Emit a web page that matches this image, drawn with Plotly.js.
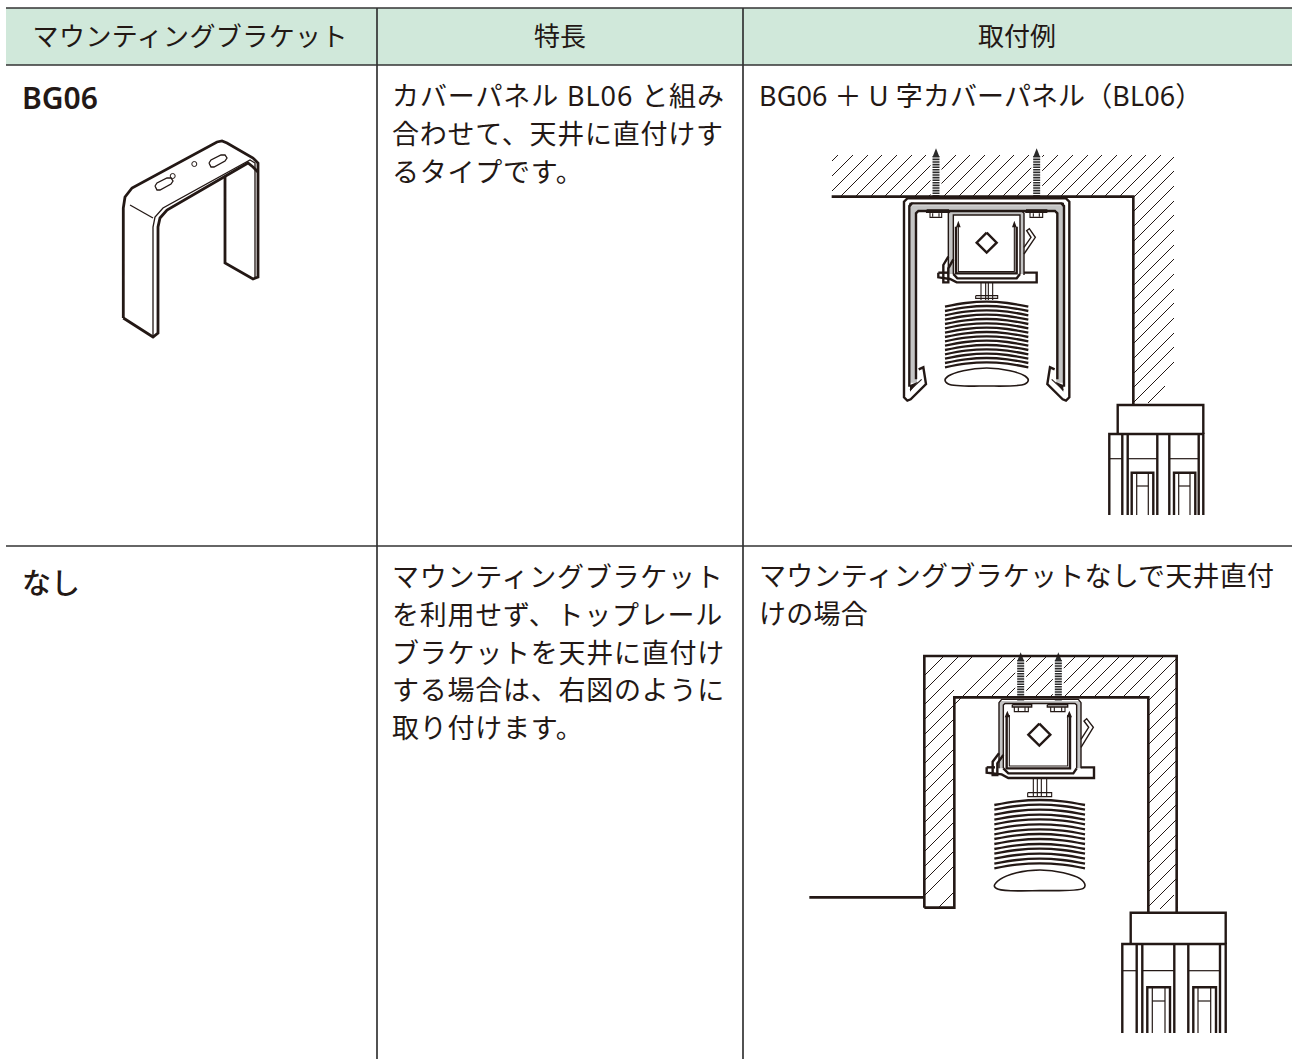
<!DOCTYPE html>
<html><head><meta charset="utf-8">
<script src="https://cdn.plot.ly/plotly-3.0.1.min.js"></script>
<style>html,body{margin:0;padding:0;background:#fff}#c{width:1292px;height:1059px}</style>
</head><body><div id="c"></div>
<script>
// ---------- text ----------
const headerLabels = ["マウンティングブラケット","特長","取付例"];
const headerCenters = [190,560,1017];
const rowLabels = ["BG06","なし"];
const rowLabelY = [97,582];
const rowLabelWeights = [600,500];
const featureLines = ["カバーパネル BL06 と組み","合わせて、天井に直付けす","るタイプです。","マウンティングブラケット","を利用せず、トップレール","ブラケットを天井に直付け","する場合は、右図のように","取り付けます。"];
const featureY = [95,133,171,576,614,652,689,727];
const featureTrack = [0.9,0.75,0.75,0.75,0.75,0.75,0.75,0.75];
const exampleLines = ["BG06 ＋ U 字カバーパネル（BL06）","マウンティングブラケットなしで天井直付","けの場合"];
const exampleY = [95,575,613];
const exampleTrack = [0.1,0.25,0.25];

// ---------- table ----------
const bandX = [6,1292,1292,6,6], bandY = [8,8,65,65,8];
const tableLines = [[6,8,1292,8],[6,65,1292,65],[6,546,1292,546],[377,8,377,1059],[743,8,743,1059]];

// ---------- bracket BG06 (page units) ----------
const bracketThick = [
 [123.3,318,123.3,208,125,197,132,188,217,142,222,141,227,143,253,158,258,163,258,277,253,279,225,263,225,177],
 [123.3,318,153,337,158,333,158,227,160,218,167,210,248,163,253,167,258,172]];
const bracketThin = [
 [153,335,153,227,155,217,163,208,250,160,255,163,255,277],[130,205,153,218],
 [155,186,157,190,160,190,171,184,173,181,171,178,167,178,157,183,155,186],
 [209,163,211,167,214,167,225,161,227,158,225,155,221,155,211,160,209,163]];
const holeX = [172.7,194.3], holeY = [176,164];

// ---------- hatching, page units: x1,y1,x2,y2 ----------
const hatchA = [[832,161,838,155],[832,176,853,155],[832,191,868,155],[841,196,882,155],[856,196,897,155],[871,196,912,155],[885,196,926,155],[900,196,941,155],[915,196,956,155],[929,196,970,155],[944,196,985,155],[959,196,1000,155],[973,196,1014,155],[988,196,1029,155],[1003,196,1044,155],[1017,196,1058,155],[1032,196,1073,155],[1047,196,1088,155],[1061,196,1102,155],[1076,196,1117,155],[1091,196,1132,155],[1105,196,1146,155],[1120,196,1161,155],[1134,197,1174,157],[1134,211,1174,171],[1134,226,1174,186],[1134,241,1174,201],[1134,255,1174,215],[1134,270,1174,230],[1134,285,1174,245],[1134,299,1174,259],[1134,314,1174,274],[1134,329,1174,289],[1134,343,1174,303],[1134,358,1174,318],[1134,373,1174,333],[1134,387,1174,347],[1134,402,1174,362],[1148,403,1165,386]];
const hatchB = [[925,675,943,657],[925,690,958,657],[925,704,972,657],[925,719,954,690],[925,734,954,705],[925,748,954,719],[925,763,954,734],[925,778,954,749],[925,792,954,763],[925,807,954,778],[925,822,954,793],[925,836,954,807],[925,851,954,822],[925,866,954,837],[925,880,954,851],[925,895,954,866],[939,907,954,892],
 [954,705,1002,657],[962,697,1002,657],[976,697,1016,657],[991,697,1031,657],[1006,697,1046,657],[1020,697,1060,657],[1035,697,1075,657],[1050,697,1090,657],[1064,697,1104,657],[1079,697,1119,657],[1094,697,1134,657],[1108,697,1148,657],[1123,697,1163,657],[1138,697,1176,659],
 [1149,700,1176,673],[1149,715,1176,688],[1149,730,1176,703],[1149,744,1176,717],[1149,759,1176,732],[1149,774,1176,747],[1149,788,1176,761],[1149,803,1176,776],[1149,818,1176,791],[1149,832,1176,805],[1149,847,1176,820],[1149,862,1176,835],[1149,876,1176,849],[1149,891,1176,864],[1149,906,1176,879],[1160,909,1174,895]];

// ---------- diagram A, crop units (820,130 at 1/3) ----------
const wallA = [[35,200,940,200,940,825]];
const screwAx = [348,650];
const grayA = [[271,758,271,226,729,226,729,758,709,758,709,240,291,240,291,758,271,758],[385,432,385,245,612,245,612,432,600,432,600,255,400,255,400,432,385,432],[320,240,385,240,385,247,320,247,320,240],[618,240,680,240,680,247,618,247,618,240]];
const darkA = [[268,218,282,218,268,234,268,218],[732,218,718,218,732,234,732,218],[270,765,294,755,270,785,270,765],[730,765,706,755,730,785,730,765]];
const heavyA = [
 [296,718,310,712,318,762,272,808,262,812,252,802,252,215,262,205,738,205,748,215,748,802,738,812,728,808,682,762,690,712,704,718],
 [268,770,268,228,275,220,725,220,732,228,732,770],[288,748,288,250,295,243,705,243,712,250,712,748],
 [408,290,408,430,590,430,590,290],
 [355,428,385,428],[400,432,412,445,590,445,600,432],[612,428,650,428,650,457,410,457,390,447,355,442,355,428],
 [385,380,370,405,370,457,385,457,385,415,400,388],
 [500,308,530,338,500,368,470,338,500,308]];
const midA = [[385,435,385,250,392,242,605,242,612,250,612,435],[400,432,400,255,600,255,600,432],[320,240,385,240,385,247,320,247,320,240],[618,240,680,240,680,247,618,247,618,240],[612,352,633,322,620,302,628,296,646,322,612,372]];
const thinA = [[415,285,415,425,583,425,583,285],[330,248,330,262,365,262,365,248],[338,250,338,260],[357,250,357,260],[630,248,630,262,668,262,668,248],[640,250,640,260],[658,250,658,260],
 [483,458,483,510],[497,458,497,510],[505,458,505,510],[518,458,518,510],[467,497,533,497,533,505,467,505,467,497],[270,780,305,748],[730,780,695,748]];
const tipsA = [[415,272,422,292,408,292,415,272],[583,272,590,292,576,292,583,272]];
const slatTopsA = [515,528,541,554,567,580,593,606,619,632,645,658,671,684,697];
const slatXA = [375,437,500,562,625], slatDropA = [15,4,0,4,15];
const rollerA = [[375,750,385,738,430,722,500,714,570,722,615,738,625,750,615,762,500,768,385,762,375,750]];

// ---------- head box A / B, page units ----------
const headBoxA = [[1117.7,434,1117.7,405,1203.3,405,1203.3,434],[1109.3,515,1109.3,434,1203.3,434,1203.3,515],[1122.3,434,1122.3,515],[1127.7,434,1127.7,515],[1157.3,434,1157.3,515],[1169.3,434,1169.3,515],[1198.7,434,1198.7,515],[1131.7,515,1131.7,472.7,1153.3,472.7,1153.3,515],[1174,515,1174,472.7,1195.3,472.7,1195.3,515]];
const headThinA = [[1109.3,458.7,1122.3,458.7],[1127.7,458.7,1157.3,458.7],[1169.3,458.7,1198.7,458.7],[1136.7,473,1136.7,515],[1148.3,473,1148.3,515],[1136.7,486,1148.3,486],[1178.7,473,1178.7,515],[1190,473,1190,515],[1178.7,486,1190,486]];
const headBoxB = [[1130.7,944,1130.7,912.7,1225.7,912.7,1225.7,944],[1122.3,1033,1122.3,944,1225.7,944,1225.7,1033],[1136.7,944,1136.7,1033],[1142.3,944,1142.3,1033],[1174.3,944,1174.3,1033],[1188.3,944,1188.3,1033],[1220,944,1220,1033],[1147.3,1033,1147.3,987.3,1170,987.3,1170,1033],[1193.3,1033,1193.3,987.3,1216,987.3,1216,1033]];
const headThinB = [[1122.3,970.7,1136.7,970.7],[1142.3,970.7,1174.3,970.7],[1188.3,970.7,1220,970.7],[1152.3,988,1152.3,1033],[1165,988,1165,1033],[1152.3,1001,1165,1001],[1198,988,1198,1033],[1210.7,988,1210.7,1033],[1198,1001,1210.7,1001]];

// ---------- diagram B, crop units (800,640 at 1/3) ----------
const wallB = [[373,803,373,48,1130,48,1130,820],[373,803,463,803,463,172,1045,172,1045,820],[28,772,373,772]];
const screwBx = [662,775];
const grayB = [[597,385,597,183,843,183,843,385,830,385,830,195,610,195,610,385,597,385],[637,194,695,194,695,201,637,201,637,194],[742,194,803,194,803,201,742,201,742,194]];
const heavyB = [
 [620,230,620,385,810,385,810,230],
 [560,382,585,382],[610,385,625,400,820,400,830,385],[843,382,882,382,882,414,625,414,605,403,560,398,560,382],
 [597,340,578,365,578,405,592,405,592,370,610,345],[718,251,751,284,718,317,685,284,718,251]];
const midB = [[597,385,597,188,605,178,835,178,843,188,843,385],[610,385,610,195,615,190,825,190,830,195,830,385],[637,194,695,194,695,201,637,201,637,194],[742,194,803,194,803,201,742,201,742,194],[843,298,866,262,852,243,860,236,880,262,843,322]];
const thinB = [[628,225,628,378,803,378,803,225],[643,201,643,215,685,215,685,201],[655,202,655,213],[675,202,675,213],[752,201,752,215,795,215,795,201],[763,202,763,213],[785,202,785,213],
 [700,416,700,470],[712,416,712,470],[724,416,724,470],[740,416,740,470],[683,458,755,458,755,470,683,470,683,458]];
const tipsB = [[622,212,630,232,614,232,622,212],[808,212,816,232,800,232,808,212]];
const slatTopsB = [480,494,509,524,538,553,568,582,597,612,626,641,656,670];
const slatXB = [583,650,719,788,855], slatDropB = [15,4,0,4,15];
const rollerB = [[583,738,600,718,650,698,720,690,790,698,840,716,855,735,850,745,720,752,595,748,583,738]];

// ---------- drawing helpers ----------
const INK = "#231815";
const crop = (ox,oy,polys)=>polys.map(p=>p.map((v,i)=> i%2===0 ? ox+v/3 : oy+v/3));
function flat(polys){const x=[],y=[];polys.forEach(p=>{for(let i=0;i<p.length;i+=2){x.push(p[i]);y.push(p[i+1]);}x.push(null);y.push(null);});return {x,y};}
function line(polys,w,color,extra){const f=flat(polys);return {type:"scatter",mode:"lines",x:f.x,y:f.y,hoverinfo:"skip",line:Object.assign({width:w,color:color||INK},extra||{})};}
function fill(polys,color,shape){const f=flat(polys);return {type:"scatter",mode:"lines",x:f.x,y:f.y,fill:"toself",fillcolor:color,line:{width:0,shape:shape||"linear"},hoverinfo:"skip"};}
function slats(tops,xs,drop){return tops.map(t=>{const p=[];xs.forEach((x,i)=>{p.push(x,t+drop[i]);});return p;});}
function screws(xs,tip,bottom){return xs.map(x=>[x,tip,x,bottom]);}

const pageA = (p)=>crop(820,130,p), pageB = (p)=>crop(800,640,p);
const traces = [
 fill([bandX.flatMap((x,i)=>[x,bandY[i]])],"#d0e8da"),
 line(tableLines,1.7,"#333333"),
 line(bracketThick,2.8), line(bracketThin,1.3),
 {type:"scatter",mode:"markers",x:holeX,y:holeY,hoverinfo:"skip",marker:{symbol:"circle-open",size:5,line:{width:1,color:INK},color:INK}},
 line(hatchA,1), line(hatchB,1),
 // diagram A
 line(pageA(screws(screwAx,62,198)),11,"#ffffff"),
 line(pageA(screws(screwAx,78,198)),7,"#2a2a2a",{dash:"1.6px,1px"}),
 fill(pageA(screwAx.map(x=>[x-10,80,x,55,x+10,80,x-10,80])),"#2a2a2a"),
 line(pageA(wallA),2.6),
 fill(pageA(grayA),"#c4c4c4"), fill(pageA(darkA),INK),
 line(pageA(heavyA),2.4), line(pageA(midA),1.4), line(pageA(thinA),1.1), fill(pageA(tipsA),INK),
 line(pageA(slats(slatTopsA,slatXA,slatDropA)),2.3,INK,{shape:"spline"}),
 fill(pageA(rollerA),"#ffffff","spline"), line(pageA(rollerA),1.6,INK,{shape:"spline"}),
 line(headBoxA,2.4), line(headThinA,1.2),
 // diagram B
 line(pageB(screws(screwBx,45,190)),11,"#ffffff"),
 line(pageB(screws(screwBx,60,190)),7,"#2a2a2a",{dash:"1.6px,1px"}),
 fill(pageB(screwBx.map(x=>[x-10,62,x,37,x+10,62,x-10,62])),"#2a2a2a"),
 line(pageB(wallB),2.6),
 fill(pageB(grayB),"#c4c4c4"),
 line(pageB(heavyB),2.4), line(pageB(midB),1.4), line(pageB(thinB),1.1), fill(pageB(tipsB),INK),
 line(pageB(slats(slatTopsB,slatXB,slatDropB)),2.3,INK,{shape:"spline"}),
 fill(pageB(rollerB),"#ffffff","spline"), line(pageB(rollerB),1.6,INK,{shape:"spline"}),
 line(headBoxB,2.4), line(headThinB,1.2)
];

// ---------- text annotations ----------
const FONT = '"Noto Sans","Noto Sans CJK JP",sans-serif';
const tracks = [];
function note(text,x,y,size,anchor,track,weight){tracks.push(track);return {text,x,y,xref:"x",yref:"y",xanchor:anchor,yanchor:"middle",showarrow:false,align:anchor,borderpad:0,font:{family:FONT,size,color:INK,weight:weight||400}};}
const annotations = [];
headerLabels.forEach((t,i)=>annotations.push(note(t,headerCenters[i],36,26,"center",i===0?0.4:0)));
rowLabels.forEach((t,i)=>annotations.push(note(t,21,rowLabelY[i],i===0?30:29,"left",0,rowLabelWeights[i])));
featureLines.forEach((t,i)=>annotations.push(note(t,391,featureY[i],27,"left",featureTrack[i])));
exampleLines.forEach((t,i)=>annotations.push(note(t,758,exampleY[i],27,"left",exampleTrack[i])));

const layout = {width:1292,height:1059,margin:{l:0,r:0,t:0,b:0},showlegend:false,paper_bgcolor:"#fff",plot_bgcolor:"#fff",
 xaxis:{range:[0,1292],visible:false,fixedrange:true},yaxis:{range:[1059,0],visible:false,fixedrange:true},annotations};
Plotly.newPlot("c",traces,layout,{staticPlot:true,displayModeBar:false}).then(gd=>{
 gd.querySelectorAll(".annotation").forEach(g=>{
  const i=+g.getAttribute("data-index"); const t=g.querySelector(".annotation-text");
  if(t&&tracks[i]) t.style.letterSpacing=tracks[i]+"px";
 });
});
</script></body></html>
